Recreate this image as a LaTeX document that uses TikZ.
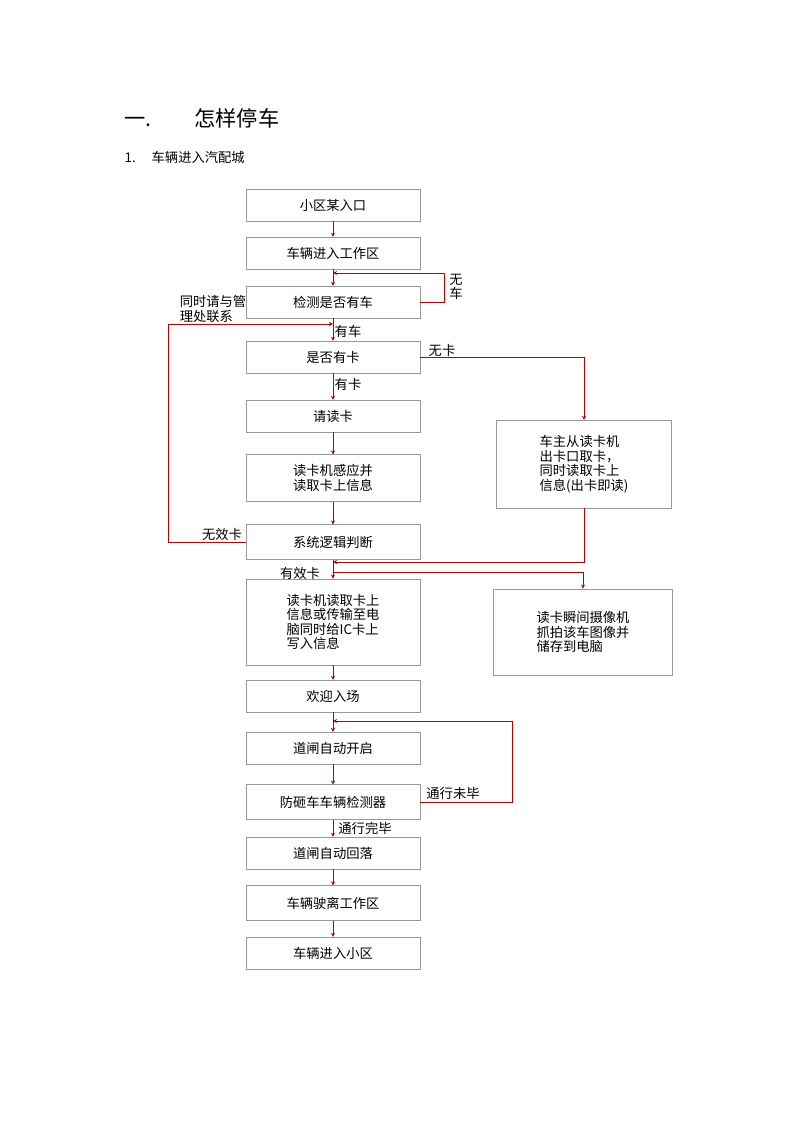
\documentclass[tikz,border=0pt]{standalone}
\usepackage{fontspec}
\setmainfont{Noto Sans CJK SC}
\usetikzlibrary{arrows.meta}
\tikzset{
    box/.style={draw=black!40, fill=white, minimum width=131, minimum height=24, inner sep=1pt, font=\fontsize{10}{11}\selectfont, align=left},
    flow/.style={draw=red!75!black, -{Stealth[length=3pt,width=3pt]}},
    line/.style={draw=red!75!black},
    lbl/.style={font=\fontsize{10}{11}\selectfont, inner sep=1pt, align=left}
}
\begin{document}
\begin{tikzpicture}[x=0.02646cm, y=-0.02646cm]
    \useasboundingbox (0,0) rectangle (800,1131);
    \node[anchor=west, font=\fontsize{16}{18}\selectfont] (title) at (120,118) {一.\hspace{2em}怎样停车};
    \node[anchor=west, font=\fontsize{10}{11}\selectfont] (sub) at (120,157) {1.\hspace{1.2em}车辆进入汽配城};
    \begin{scope}
        \node[box] (a) at (333,205) {小区某入口};
        \node[box] (b) at (333,253) {车辆进入工作区};
        \node[box] (c) at (333,302) {检测是否有车};
        \node[box] (d) at (333,357) {是否有卡};
        \node[box] (e) at (333,416) {请读卡};
        \node[box, minimum height=35] (f) at (333,478) {读卡机感应并\\读取卡上信息};
        \node[box, minimum height=26] (g) at (333,542) {系统逻辑判断};
        \node[box, minimum height=65] (h) at (333,622) {读卡机读取卡上\\信息或传输至电\\脑同时给IC卡上\\写入信息};
        \node[box] (i) at (333,696) {欢迎入场};
        \node[box] (j) at (333,748) {道闸自动开启};
        \node[box, minimum height=26] (k) at (333,802) {防砸车车辆检测器};
        \node[box] (l) at (333,853) {道闸自动回落};
        \node[box, minimum height=26] (m) at (333,903) {车辆驶离工作区};
        \node[box] (n) at (333,953) {车辆进入小区};
        \node[box, minimum width=132, minimum height=66] (r1) at (584,464) {车主从读卡机\\出卡口取卡，\\同时读取卡上\\信息(出卡即读)};
        \node[box, minimum width=135, minimum height=65] (r2) at (583,632) {读卡瞬间摄像机\\抓拍该车图像并\\储存到电脑};
    \end{scope}
    \coordinate (p1) at (333,273);
    \coordinate (p2) at (333,324);
    \coordinate (p3) at (333,562);
    \coordinate (p4) at (333,572);
    \coordinate (p5) at (333,721);
    \begin{scope}
        \path[flow]
        (a) edge (b)
        (b) edge (c)
        (c) edge (d)
        (d) edge (e)
        (e) edge (f)
        (f) edge (g)
        (g) edge (h)
        (h) edge (i)
        (i) edge (j)
        (j) edge (k)
        (k) edge (l)
        (l) edge (m)
        (m) edge (n)
        ;
        \draw[flow] (c.east) -- (444,302) -- (444,273) -- (p1);
        \draw[flow] (g.west) -- (168,542) -- (168,324) -- (p2);
        \draw[flow] (d.east) -- (r1.north |- d.east) -- (r1.north);
        \draw[flow] (r1.south) -- (r1.south |- p3) -- (p3);
        \draw[flow] (p4) -- (r2.north |- p4) -- (r2.north);
        \draw[flow] (k.east) -- (512,802) -- (512,721) -- (p5);
    \end{scope}
    \node[lbl] (l1) at (456,287) {无\\车};
    \node[lbl] (l2) at (213,309) {同时请与管\\理处联系};
    \node[lbl] (l3) at (348,331) {有车};
    \node[lbl] (l4) at (348,384) {有卡};
    \node[lbl] (l5) at (442,350) {无卡};
    \node[lbl] (l6) at (222,534) {无效卡};
    \node[lbl] (l7) at (300,573) {有效卡};
    \node[lbl] (l8) at (453,793) {通行未毕};
    \node[lbl] (l9) at (365,828) {通行完毕};
\end{tikzpicture}
\end{document}
